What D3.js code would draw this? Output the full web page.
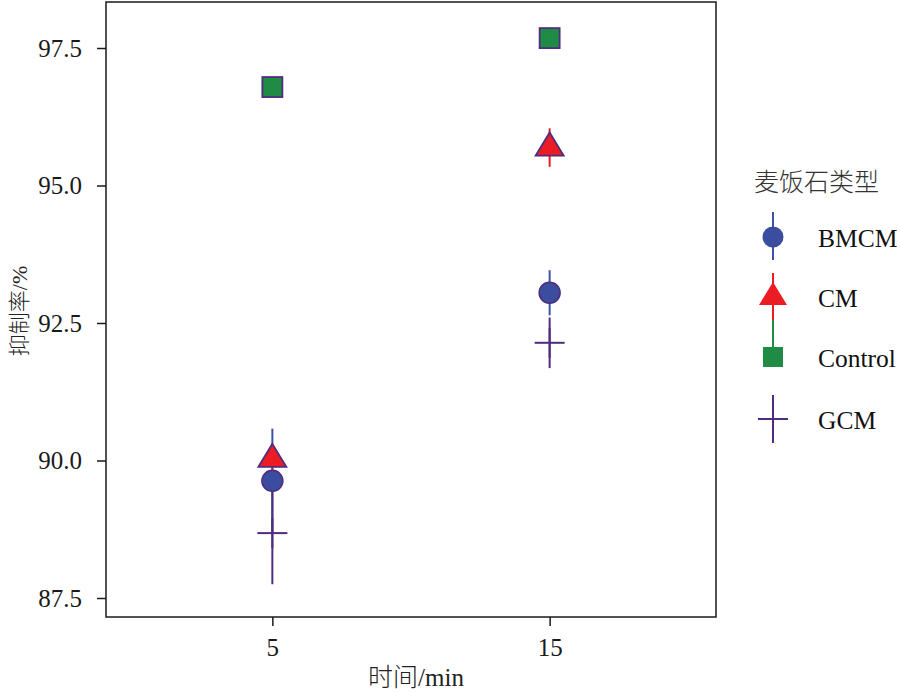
<!DOCTYPE html>
<html><head><meta charset="utf-8">
<script src="https://cdn.jsdelivr.net/npm/d3@7/dist/d3.min.js"></script>
<style>body{margin:0;background:#fff}svg{display:block}</style>
</head><body><svg id="c" width="900" height="692"></svg>
<script>
const times = ["5", "15"];
const series = ["BMCM", "CM", "Control", "GCM"];
const means = {
  BMCM:    [89.63, 93.05],
  CM:      [90.03, 95.69],
  Control: [96.79, 97.68],
  GCM:     [88.68, 92.14]
};
const errs = {
  BMCM:    [0.95, 0.41],
  CM:      [0.20, 0.35],
  Control: [0.10, 0.10],
  GCM:     [0.93, 0.46]
};
const yTicks = [87.5, 90.0, 92.5, 95.0, 97.5];
const legendTitle = "麦饭石类型";
const xTitle = ["时间", "/min"];
const yTitle = ["抑制率", "/%"];

const fills = {BMCM:"#3a4d9f", CM:"#ec1c24", Control:"#1f8b45", GCM:"none"};
const lineCol = {BMCM:"#3b52a6", CM:"#ec1c24", Control:"#1f8b45", GCM:"#4e2d80"};
const edge = "#4e2d80";
const serif = "'Liberation Serif','DejaVu Serif',serif";
const cjk = "'Noto Sans CJK SC',sans-serif";

const svg = d3.select("#c");
const L = 106, R = 716, T = 2, B = 617;
const x = d3.scalePoint().domain(times).range([L, R]).padding(0.6);
const y = d3.scaleLinear().domain([87.5 - 19/55, 97.5 + 46/55]).range([B, T]);

function symbol(g, s, cx, cy) {
  if (s === "BMCM") g.append("circle").attr("cx", cx).attr("cy", cy).attr("r", 10.5)
      .attr("fill", fills[s]).attr("stroke", edge).attr("stroke-width", 1.5);
  else if (s === "CM") g.append("path").attr("transform", `translate(${cx},${cy})`)
      .attr("d", "M0,-15L14,8L-14,8Z").attr("fill", fills[s]).attr("stroke", edge).attr("stroke-width", 1.8);
  else if (s === "Control") g.append("rect").attr("x", cx - 10).attr("y", cy - 10).attr("width", 20).attr("height", 20)
      .attr("fill", fills[s]).attr("stroke", edge).attr("stroke-width", 1.8);
  else {
    g.append("line").attr("x1", cx - 15).attr("x2", cx + 15).attr("y1", cy).attr("y2", cy).attr("stroke", lineCol[s]).attr("stroke-width", 2);
    g.append("line").attr("x1", cx).attr("x2", cx).attr("y1", cy - 15).attr("y2", cy + 15).attr("stroke", lineCol[s]).attr("stroke-width", 2);
  }
}

const plot = svg.append("g");
series.forEach(s => {
  times.forEach((t, i) => {
    plot.append("line").attr("x1", x(t)).attr("x2", x(t))
      .attr("y1", y(means[s][i] - errs[s][i])).attr("y2", y(means[s][i] + errs[s][i]))
      .attr("stroke", lineCol[s]).attr("stroke-width", 2);
  });
});
series.forEach(s => {
  times.forEach((t, i) => symbol(plot, s, x(t), y(means[s][i])));
});

svg.append("rect").attr("x", L).attr("y", T).attr("width", R - L).attr("height", B - T)
  .attr("fill", "none").attr("stroke", "#1a1a1a").attr("stroke-width", 1.5);

const ya = svg.append("g").attr("transform", `translate(${L},0)`)
  .call(d3.axisLeft(y).tickValues(yTicks).tickFormat(d3.format(".1f")).tickSize(9).tickPadding(15));
const xa = svg.append("g").attr("transform", `translate(0,${B})`)
  .call(d3.axisBottom(x).tickSize(9).tickPadding(12));
[ya, xa].forEach(a => {
  a.select(".domain").remove();
  a.selectAll("line").attr("stroke", "#1a1a1a").attr("stroke-width", 1.5);
  a.selectAll("text").attr("font-family", serif).attr("font-size", 25).attr("fill", "#1a1a1a");
});

svg.append("text").attr("x", 416).attr("y", 686).attr("text-anchor", "middle")
  .attr("font-size", 25).attr("fill", "#222")
  .selectAll("tspan").data(xTitle.map((t, i) => [t, i ? serif : cjk])).join("tspan")
  .attr("font-family", d => d[1]).attr("font-weight", 300).text(d => d[0]);
svg.append("text").attr("transform", "translate(27,311) rotate(-90)").attr("text-anchor", "middle")
  .attr("font-size", 22).attr("fill", "#222")
  .selectAll("tspan").data(yTitle.map((t, i) => [t, i ? serif : cjk])).join("tspan")
  .attr("font-family", d => d[1]).attr("font-weight", 300).text(d => d[0]);

const lg = svg.append("g");
lg.append("text").attr("x", 754).attr("y", 191).attr("font-family", cjk).attr("font-weight", 300)
  .attr("font-size", 25).attr("fill", "#333").text(legendTitle);
const keyY = [237, 297, 357, 419];
const keySpans = [[212, 260], [273, 320], [320, 350], [395, 443]];
series.forEach((s, i) => {
  lg.append("line").attr("x1", 773).attr("x2", 773).attr("y1", keySpans[i][0]).attr("y2", keySpans[i][1])
    .attr("stroke", lineCol[s]).attr("stroke-width", 2);
});
series.forEach((s, i) => {
  if (s === "GCM") symbol(lg, s, 773, keyY[i]);
  else {
    const g = lg.append("g");
    symbol(g, s, 773, keyY[i]);
    g.selectAll("circle,rect,path").attr("stroke", "none");
  }
  lg.append("text").attr("x", 818).attr("y", keyY[i] + 10).attr("font-family", serif)
    .attr("font-size", 25.5).attr("fill", "#111").text(s);
});
</script></body></html>
